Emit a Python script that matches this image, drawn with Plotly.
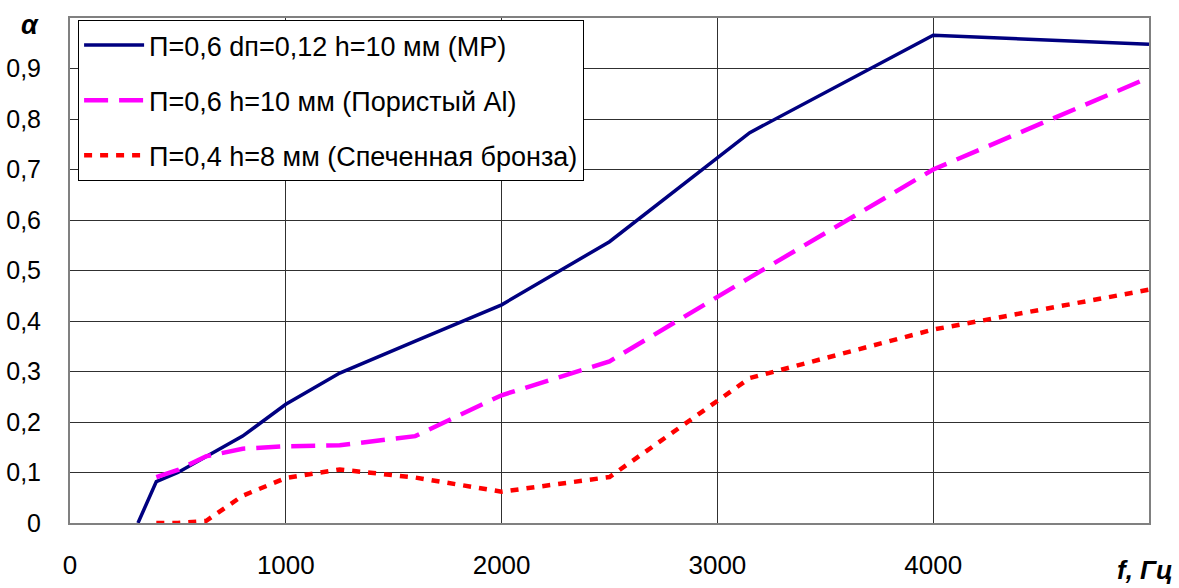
import plotly.graph_objects as go

freq_mp = [315, 400, 500, 630, 800, 1000, 1250, 1600, 2000, 2500, 3150, 4000, 5000]
alpha_mp = [0.0, 0.082, 0.10, 0.132, 0.172, 0.235, 0.297, 0.360, 0.432, 0.557, 0.773, 0.966, 0.948]

freq_al = [400, 500, 630, 800, 1000, 1250, 1600, 2000, 2500, 3150, 4000, 5000]
alpha_al = [0.091, 0.105, 0.132, 0.147, 0.152, 0.154, 0.172, 0.253, 0.320, 0.486, 0.700, 0.882]

freq_br = [400, 500, 630, 800, 1000, 1250, 1600, 2000, 2500, 3150, 4000, 5000]
alpha_br = [0.0, 0.0, 0.004, 0.054, 0.089, 0.106, 0.090, 0.062, 0.091, 0.287, 0.383, 0.462]

names = ["П=0,6 dп=0,12 h=10 мм (МР)",
         "П=0,6 h=10 мм (Пористый Al)",
         "П=0,4 h=8 мм (Спеченная бронза)"]

x_tickvals = [0, 1000, 2000, 3000, 4000, 5000]
x_ticktext = ["0", "1000", "2000", "3000", "4000", ""]
y_tickvals = [0, 0.1, 0.2, 0.3, 0.4, 0.5, 0.6, 0.7, 0.8, 0.9, 1.0]
y_ticktext = ["0", "0,1", "0,2", "0,3", "0,4", "0,5", "0,6", "0,7", "0,8", "0,9", ""]

FONT = "Arial, Liberation Sans, sans-serif"

fig = go.Figure()
fig.add_trace(go.Scatter(x=freq_mp, y=alpha_mp, mode="lines", name=names[0],
                         legendgroup="a",
                         line=dict(color="#000080", width=3.5)))
fig.add_trace(go.Scatter(x=freq_al, y=alpha_al, mode="lines", name=names[1],
                         legendgroup="b",
                         line=dict(color="#FF00FF", width=4.5, dash="24px,11px")))
fig.add_trace(go.Scatter(x=freq_br, y=alpha_br, mode="lines", name=names[2],
                         legendgroup="c",
                         line=dict(color="#FF0000", width=4.5, dash="8px,8px")))

fig.update_layout(
    width=1179, height=588,
    margin=dict(l=70, r=30, t=18, b=65, autoexpand=False),
    paper_bgcolor="white", plot_bgcolor="white",
    font=dict(family=FONT, size=25, color="black"),
    showlegend=True,
    legend=dict(x=0.0075, y=0.996, xanchor="left", yanchor="top",
                bgcolor="white", bordercolor="black", borderwidth=1,
                font=dict(family=FONT, size=27, color="black"),
                tracegroupgap=17, itemwidth=60),
    xaxis=dict(range=[0, 5000], tickvals=x_tickvals, ticktext=x_ticktext,
               showgrid=True, gridcolor="#303030", gridwidth=1,
               showline=True, linecolor="#808080", linewidth=2, mirror=True,
               zeroline=False, ticks="", ticklabelstandoff=18, automargin=False,
               tickfont=dict(family=FONT, size=26)),
    yaxis=dict(range=[0, 1.0], tickvals=y_tickvals, ticktext=y_ticktext,
               showgrid=True, gridcolor="#303030", gridwidth=1,
               showline=True, linecolor="#808080", linewidth=2, mirror=True,
               zeroline=False, ticks="", ticklabelstandoff=22, automargin=False,
               tickfont=dict(family=FONT, size=25)),
    annotations=[
        dict(text="<b><i>α</i></b>", xref="paper", yref="paper",
             x=-0.037, y=0.986, xanchor="center", yanchor="middle",
             showarrow=False, font=dict(family=FONT, size=27)),
        dict(text="<b><i>f, Гц</i></b>", xref="paper", yref="paper",
             x=1.024, y=-0.094, xanchor="right", yanchor="middle",
             showarrow=False, font=dict(family=FONT, size=26)),
    ],
)

fig.write_html("out.html", config={"displayModeBar": False},
               post_script="document.body.style.margin='0';document.body.style.overflow='hidden';")
